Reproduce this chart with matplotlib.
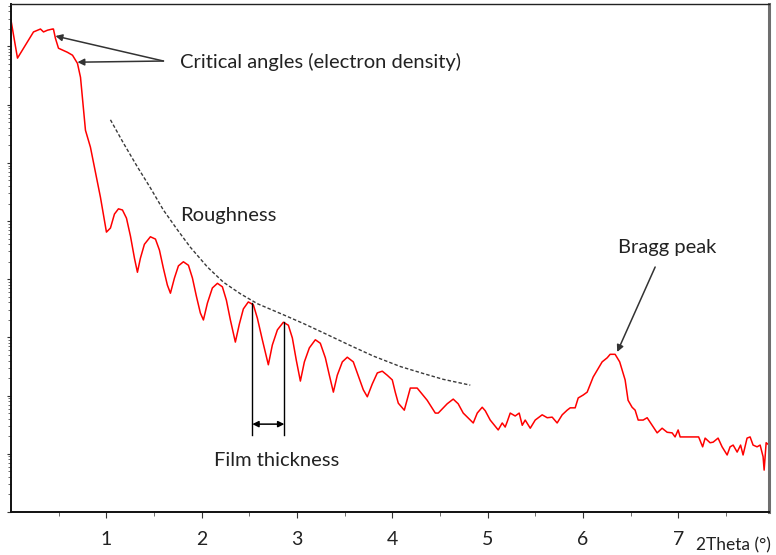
import matplotlib.pyplot as plt
import numpy as np
from matplotlib.ticker import LogLocator, NullFormatter, FixedLocator

# Reflectivity scan: 2Theta (deg) and log10 of the detected intensity
two_theta = [
    0.000, 0.068, 0.236, 0.309, 0.341, 0.383, 0.435, 0.445, 0.466, 0.498,
    0.592, 0.645, 0.697, 0.729, 0.781, 0.812, 0.833, 0.938,
    1.001, 1.043, 1.085, 1.127, 1.169, 1.211, 1.253, 1.295, 1.326,
    1.357, 1.399, 1.462, 1.515, 1.557, 1.598, 1.640, 1.672,
    1.714, 1.756, 1.808, 1.861, 1.903, 1.944, 1.986, 2.018,
    2.060, 2.112, 2.165, 2.217, 2.259, 2.301, 2.353,
    2.395, 2.437, 2.489, 2.542, 2.584, 2.636, 2.699,
    2.741, 2.794, 2.856, 2.909, 2.951, 2.992, 3.035,
    3.077, 3.129, 3.192, 3.244, 3.297, 3.339, 3.381,
    3.422, 3.475, 3.527, 3.590, 3.642, 3.695, 3.737,
    3.789, 3.842, 3.894, 3.946, 3.999, 4.030, 4.062, 4.125,
    4.188, 4.260, 4.365, 4.450, 4.481, 4.575, 4.638, 4.690, 4.743,
    4.848, 4.890, 4.942, 4.974, 5.026, 5.110, 5.152, 5.183, 5.204,
    5.236, 5.288, 5.330, 5.362, 5.393, 5.446, 5.498, 5.571, 5.624,
    5.676, 5.728, 5.781, 5.833, 5.865, 5.917, 5.949, 6.001, 6.043,
    6.106, 6.200, 6.253, 6.284, 6.336, 6.384, 6.441, 6.472, 6.514,
    6.546, 6.578, 6.630, 6.672, 6.724, 6.777, 6.829, 6.882, 6.934,
    6.965, 6.997, 7.018, 7.070, 7.154, 7.212, 7.254, 7.280, 7.332,
    7.364, 7.416, 7.458, 7.511, 7.542, 7.574, 7.616, 7.652, 7.678,
    7.720, 7.752, 7.783, 7.825, 7.857, 7.888, 7.899, 7.920, 7.951,
]
log_intensity = [
    8.45, 7.80, 8.25, 8.30, 8.25, 8.28, 8.30, 8.30, 8.14, 7.97,
    7.90, 7.85, 7.71, 7.47, 6.56, 6.39, 6.27, 5.41,
    4.81, 4.88, 5.12, 5.21, 5.19, 5.05, 4.74, 4.36, 4.12,
    4.36, 4.60, 4.73, 4.69, 4.50, 4.19, 3.90, 3.76,
    4.02, 4.23, 4.30, 4.24, 4.02, 3.71, 3.42, 3.30,
    3.59, 3.85, 3.93, 3.87, 3.64, 3.30, 2.92,
    3.23, 3.49, 3.61, 3.56, 3.33, 2.96, 2.53,
    2.87, 3.13, 3.26, 3.21, 2.99, 2.61, 2.25,
    2.58, 2.82, 2.96, 2.90, 2.65, 2.35, 2.06,
    2.35, 2.58, 2.66, 2.58, 2.34, 2.10, 1.98,
    2.20, 2.39, 2.42, 2.35, 2.27, 2.06, 1.87, 1.75,
    2.13, 2.13, 1.92, 1.70, 1.70, 1.86, 1.94, 1.86, 1.70,
    1.53, 1.70, 1.80, 1.74, 1.58, 1.41, 1.53, 1.46, 1.55,
    1.70, 1.65, 1.70, 1.49, 1.58, 1.44, 1.58, 1.67, 1.62,
    1.63, 1.53, 1.67, 1.75, 1.79, 1.79, 1.96, 2.01, 2.06,
    2.32, 2.58, 2.65, 2.71, 2.71, 2.58, 2.27, 1.92, 1.80,
    1.75, 1.58, 1.58, 1.62, 1.49, 1.36, 1.44, 1.37, 1.36,
    1.29, 1.41, 1.29, 1.29, 1.29, 1.29, 1.12, 1.27, 1.19,
    1.20, 1.27, 1.12, 0.98, 1.12, 1.15, 1.03, 1.15, 0.98,
    1.27, 1.29, 1.15, 1.12, 1.15, 0.95, 0.72, 1.19, 1.15,
]

# Envelope of the fringe maxima (roughness damping)
envelope_theta = [
    1.043, 1.179, 1.326, 1.462, 1.598, 1.745, 1.881, 2.060, 2.227, 2.406,
    2.584, 2.856, 3.066, 3.276, 3.560, 3.800, 4.083, 4.324, 4.533, 4.817,
]
envelope_log = [
    6.74, 6.34, 5.93, 5.57, 5.19, 4.85, 4.55, 4.21, 3.95, 3.75,
    3.58, 3.39, 3.24, 3.08, 2.86, 2.68, 2.50, 2.38, 2.28, 2.18,
]

# Two neighbouring fringe maxima used to mark the film thickness period
fringe_peaks_theta = [2.531, 2.867]
fringe_peaks_log = [3.59, 3.26]

x_ticks = [1, 2, 3, 4, 5, 6, 7]

plt.rcParams["font.family"] = ["Lato", "DejaVu Sans"]

fig = plt.figure(figsize=(7.76, 5.55), dpi=100)
ax = fig.add_axes([11 / 776, 43 / 555, 758 / 776, 508 / 555])

counts = 10.0 ** np.array(log_intensity)
ax.plot(two_theta, counts, color="#ff0000", lw=1.1)

ax.plot(envelope_theta, 10.0 ** np.array(envelope_log),
        color="#3a3a3a", lw=1.0, ls=(0, (2.5, 1.5)))

ax.set_yscale("log")
ax.set_xlim(0, 7.95)
ax.set_ylim(1, 10 ** 8.73)

ax.yaxis.set_major_locator(LogLocator(base=10, numticks=100))
ax.yaxis.set_minor_locator(LogLocator(base=10, subs=np.arange(2, 10), numticks=100))
ax.yaxis.set_major_formatter(NullFormatter())
ax.yaxis.set_minor_formatter(NullFormatter())
ax.tick_params(axis="y", which="major", direction="out", length=3, width=0.8, color="#333333")
ax.tick_params(axis="y", which="minor", direction="out", length=2, width=0.6, color="#555555")

ax.xaxis.set_major_locator(FixedLocator(x_ticks))
ax.xaxis.set_minor_locator(FixedLocator([t - 0.5 for t in x_ticks] + [7.5]))
ax.set_xticklabels([str(t) for t in x_ticks])
ax.tick_params(axis="x", which="major", direction="out", length=4, width=0.8,
               color="#333333", labelsize=14, pad=10, labelcolor="#222222")
ax.tick_params(axis="x", which="minor", direction="out", length=3, width=0.6, color="#555555")

for side in ["left", "bottom"]:
    ax.spines[side].set_linewidth(1.4)
    ax.spines[side].set_color("#111111")
ax.spines["top"].set_linewidth(1.0)
ax.spines["top"].set_color("#222222")
ax.spines["right"].set_linewidth(2.2)
ax.spines["right"].set_color("#6e6e6e")

fig.text(0.994, 0.002, "2Theta (°)", ha="right", va="bottom", fontsize=12.5, color="#222222")

text_kw = dict(fontsize=14.5, color="#222222", va="center")
arrow_kw = dict(arrowstyle="-|>", color="#333333", lw=1.1, mutation_scale=10, shrinkA=0, shrinkB=0)

# critical angles
ax.text(1.777, 10 ** 7.73, "Critical angles (electron density)", ha="left", **text_kw)
ax.annotate("", xy=(0.466, 10 ** 8.18), xytext=(1.599, 10 ** 7.75), arrowprops=arrow_kw)
ax.annotate("", xy=(0.697, 10 ** 7.73), xytext=(1.599, 10 ** 7.75), arrowprops=arrow_kw)

# roughness
ax.text(1.777, 10 ** 5.09, "Roughness", ha="left", **text_kw)

# Bragg peak
ax.text(6.368, 10 ** 4.54, "Bragg peak", ha="left", **text_kw)
ax.annotate("", xy=(6.358, 10 ** 2.75), xytext=(6.756, 10 ** 4.21), arrowprops=arrow_kw)

# film thickness from the fringe period
for t, lg in zip(fringe_peaks_theta, fringe_peaks_log):
    ax.plot([t, t], [10 ** lg, 10 ** 1.32], color="black", lw=1.0)
ax.annotate("", xy=(fringe_peaks_theta[0], 10 ** 1.51), xytext=(fringe_peaks_theta[1], 10 ** 1.51),
            arrowprops=dict(arrowstyle="<|-|>", color="black", lw=1.1, mutation_scale=9,
                            shrinkA=0, shrinkB=0))
ax.text(2.133, 10 ** 0.89, "Film thickness", ha="left", **text_kw)

fig.savefig("out.png", dpi=100)
